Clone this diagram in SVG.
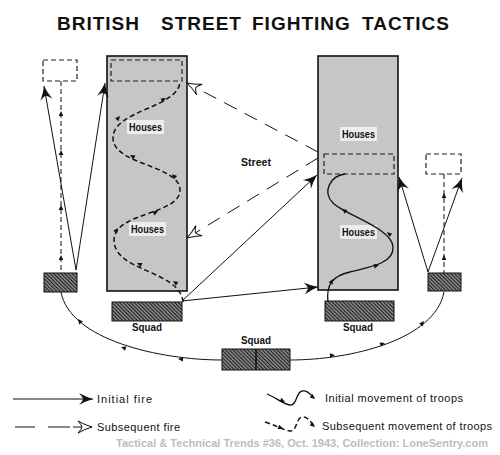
<svg xmlns="http://www.w3.org/2000/svg" xmlns:xlink="http://www.w3.org/1999/xlink" width="500" height="455" viewBox="0 0 500 455">
<defs>
<style>
.bldg{fill:#c6c6c6;stroke:#111;stroke-width:1.6}
.sq{fill:url(#hatch);stroke:#111;stroke-width:1}
.dbox{fill:none;stroke:#222;stroke-width:1.2;stroke-dasharray:5,3}
.txt{font-family:"Liberation Sans",Arial,sans-serif;fill:#111}
.lbl{font-size:11px;text-anchor:middle;font-weight:bold}
.leg{font-size:11px}
.fire{fill:none;stroke:#111;stroke-width:1}
.sfire{fill:none;stroke:#111;stroke-width:1;stroke-dasharray:14,9}
.dline{fill:none;stroke:#111;stroke-width:1;stroke-dasharray:5,3}
.mov{fill:none;stroke:#111;stroke-width:1.3}
.smov{fill:none;stroke:#111;stroke-width:1.5;stroke-dasharray:5,3}
.lbg{fill:#ececec}
</style>
<pattern id="hatch" patternUnits="userSpaceOnUse" width="2.6" height="2.6" patternTransform="rotate(-45)">
<rect width="2.6" height="2.6" fill="#8c8c8c"/>
<line x1="0.5" y1="0" x2="0.5" y2="2.6" stroke="#1a1a1a" stroke-width="1.1"/>
</pattern>
<marker id="ah" markerUnits="userSpaceOnUse" viewBox="-15 -7 16 14" refX="0" refY="0" markerWidth="16" markerHeight="14" orient="auto">
<path d="M0,0 Q-7,-2 -14,-6 Q-10,-1.5 -10,0 Q-10,1.5 -14,6 Q-7,2 0,0Z" fill="#111"/>
</marker>
<marker id="oh" markerUnits="userSpaceOnUse" viewBox="-15 -7 16 14" refX="0" refY="0" markerWidth="16" markerHeight="14" orient="auto">
<path d="M0,0 Q-7,-2 -14,-6 Q-10,-1.5 -10,0 Q-10,1.5 -14,6 Q-7,2 0,0Z" fill="#fff" stroke="#111" stroke-width="1"/>
</marker>
<path id="sa" d="M0,0 L-5,-2.3 L-5,2.3Z" fill="#111"/>
</defs>
<rect width="500" height="455" fill="#fff"/>

<text class="txt" font-size="19" font-weight="bold" letter-spacing="1" y="30"><tspan x="57">BRITISH</tspan><tspan x="161">STREET</tspan><tspan x="252">FIGHTING</tspan><tspan x="362">TACTICS</tspan></text>

<g id="building-left">
<rect class="bldg" x="107" y="56" width="80" height="235"/>
<rect class="dbox" x="111" y="60" width="71" height="21"/>
<rect class="lbg" x="127" y="120" width="37" height="14"/>
<text class="txt lbl" x="145.5" y="131" textLength="33" lengthAdjust="spacingAndGlyphs">Houses</text>
<rect class="lbg" x="129" y="222" width="37" height="14"/>
<text class="txt lbl" x="147.5" y="233" textLength="33" lengthAdjust="spacingAndGlyphs">Houses</text>
</g>

<g id="building-right">
<rect class="bldg" x="318" y="56" width="80" height="234"/>
<rect class="dbox" x="324" y="154" width="70" height="20"/>
<rect class="lbg" x="340" y="127" width="37" height="14"/>
<text class="txt lbl" x="358.5" y="138" textLength="33" lengthAdjust="spacingAndGlyphs">Houses</text>
<rect class="lbg" x="340" y="225" width="37" height="14"/>
<text class="txt lbl" x="358.5" y="236" textLength="33" lengthAdjust="spacingAndGlyphs">Houses</text>
</g>

<g id="street-label">
<text class="txt lbl" x="256" y="166" textLength="30" lengthAdjust="spacingAndGlyphs">Street</text>
</g>

<g id="target-left">
<rect class="dbox" x="43" y="60" width="34" height="21" fill="#fff"/>
</g>
<g id="target-right">
<rect class="dbox" x="426" y="154" width="35" height="20"/>
</g>

<g id="squad-flank-left">
<rect class="sq" x="44" y="273" width="33" height="19"/>
</g>
<g id="squad-flank-right">
<rect class="sq" x="428" y="273" width="33" height="18"/>
</g>
<g id="squad-left">
<rect class="sq" x="112" y="302" width="70" height="19"/>
<text class="txt lbl" x="147" y="331" textLength="30" lengthAdjust="spacingAndGlyphs">Squad</text>
</g>
<g id="squad-right">
<rect class="sq" x="325" y="301" width="69" height="20"/>
<text class="txt lbl" x="358" y="331" textLength="30" lengthAdjust="spacingAndGlyphs">Squad</text>
</g>
<g id="squad-center">
<rect class="sq" x="222" y="349" width="68" height="21"/>
<line x1="256" y1="349" x2="256" y2="370" stroke="#111" stroke-width="1.5"/>
<text class="txt lbl" x="256" y="344" textLength="30" lengthAdjust="spacingAndGlyphs">Squad</text>
</g>

<g id="connectors">
<path class="fire" d="M76,270 L44,86" marker-end="url(#ah)"/>
<path class="fire" d="M76,270 L105,83" marker-end="url(#ah)"/>
<path class="fire" d="M428,272 L399,177" marker-end="url(#ah)"/>
<path class="fire" d="M428,272 L462,178" marker-end="url(#ah)"/>
<path class="fire" d="M182,301 L318,287" marker-end="url(#ah)"/>
<path class="fire" d="M182,301 L317,175" marker-end="url(#ah)"/>
<path class="sfire" d="M318,152 L187,83" marker-end="url(#oh)"/>
<path class="sfire" d="M318,158 L187,238" marker-end="url(#oh)"/>
<line class="dline" x1="61" y1="81" x2="61" y2="273"/>
<use xlink:href="#sa" href="#sa" transform="translate(61,111) rotate(-90)"/>
<use xlink:href="#sa" href="#sa" transform="translate(61,150) rotate(-90)"/>
<use xlink:href="#sa" href="#sa" transform="translate(61,205) rotate(-90)"/>
<use xlink:href="#sa" href="#sa" transform="translate(61,255) rotate(-90)"/>
<line class="dline" x1="444" y1="174" x2="444" y2="273"/>
<use xlink:href="#sa" href="#sa" transform="translate(444,193) rotate(-90)"/>
<use xlink:href="#sa" href="#sa" transform="translate(444,255) rotate(-90)"/>
<path class="fire" d="M222,360 C160,360 70,340 61,292"/>
<use xlink:href="#sa" href="#sa" transform="translate(178,359) rotate(183)"/>
<use xlink:href="#sa" href="#sa" transform="translate(121,347) rotate(199)"/>
<use xlink:href="#sa" href="#sa" transform="translate(78,319) rotate(233)"/>
<path class="fire" d="M290,360 C350,360 435,340 444,292"/>
<use xlink:href="#sa" href="#sa" transform="translate(335,355) rotate(-6)"/>
<use xlink:href="#sa" href="#sa" transform="translate(385,343) rotate(-19)"/>
<use xlink:href="#sa" href="#sa" transform="translate(424,321) rotate(-53)"/>
<path class="smov" d="M183,302 C180,270 114,272 114,240 C114,212 180,215 180,190 C180,165 113,165 113,138 C113,110 178,108 180,82"/>
<use xlink:href="#sa" href="#sa" transform="translate(173,281) rotate(215)"/>
<use xlink:href="#sa" href="#sa" transform="translate(137,263) rotate(205)"/>
<use xlink:href="#sa" href="#sa" transform="translate(118,228) rotate(-55)"/>
<use xlink:href="#sa" href="#sa" transform="translate(158,211) rotate(-28)"/>
<use xlink:href="#sa" href="#sa" transform="translate(172,174) rotate(225)"/>
<use xlink:href="#sa" href="#sa" transform="translate(130,155) rotate(210)"/>
<use xlink:href="#sa" href="#sa" transform="translate(120,116) rotate(-50)"/>
<use xlink:href="#sa" href="#sa" transform="translate(166,98) rotate(-30)"/>
<path class="mov" d="M328,302 C326,285 332,276 350,272 C375,266 394,262 393,247 C392,228 345,215 333,203 C322,192 330,176 345,174"/>
<use xlink:href="#sa" href="#sa" transform="translate(333,279) rotate(-62)"/>
<use xlink:href="#sa" href="#sa" transform="translate(379,265) rotate(-14)"/>
<use xlink:href="#sa" href="#sa" transform="translate(387,232) rotate(222)"/>
<use xlink:href="#sa" href="#sa" transform="translate(342,209) rotate(215)"/>
</g>

<g id="legend">
<path class="fire" d="M13,399 L93,399" marker-end="url(#ah)"/>
<text class="txt leg" x="97" y="403" textLength="55" lengthAdjust="spacing">Initial fire</text>
<path class="fire" d="M15,427 L35,427 M48,427 L70,427"/>
<path class="fire" d="M73,427 L92,427" marker-end="url(#oh)"/>
<text class="txt leg" x="97" y="431" textLength="83" lengthAdjust="spacing">Subsequent fire</text>
<path class="mov" d="M267,394 C277,398 283,404 290,405 C297,406 296,392 302,391 C307,390 310,394 314,398"/>
<use xlink:href="#sa" href="#sa" transform="translate(285,402) rotate(25)"/>
<use xlink:href="#sa" href="#sa" transform="translate(315,399) rotate(40)"/>
<text class="txt leg" x="325" y="402" textLength="138" lengthAdjust="spacing">Initial movement of troops</text>
<path class="smov" d="M265,422 C275,425 283,430 290,431 C297,432 296,418 302,417 C307,416 310,421 313,425"/>
<use xlink:href="#sa" href="#sa" transform="translate(283,429) rotate(25)"/>
<use xlink:href="#sa" href="#sa" transform="translate(315,427) rotate(40)"/>
<text class="txt leg" x="322" y="430" textLength="170" lengthAdjust="spacing">Subsequent movement of troops</text>
</g>

<text class="txt" x="116" y="447" font-size="11" font-weight="bold" style="fill:#bdbdbd" textLength="372" lengthAdjust="spacingAndGlyphs">Tactical &amp; Technical Trends #36, Oct. 1943, Collection: LoneSentry.com</text>
</svg>
